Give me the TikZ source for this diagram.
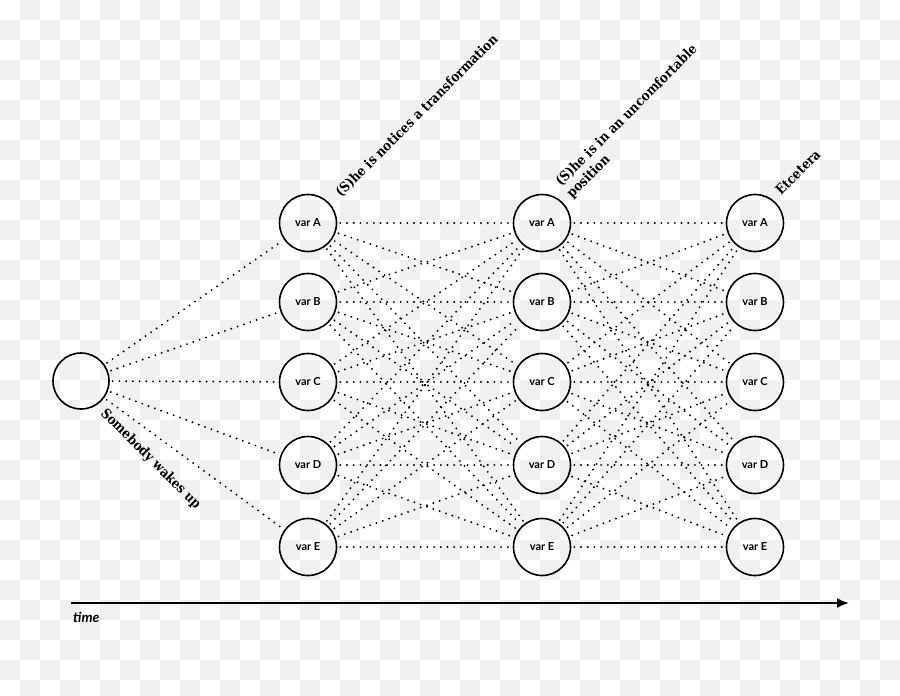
\documentclass[tikz,border=0pt]{standalone}
\usepackage{fontspec}
\setmainfont{DejaVu Serif}
\newfontfamily\latofont{Lato}
\newfontfamily\lblfont[FakeStretch=0.89]{DejaVu Serif}
\usetikzlibrary{arrows.meta}
\definecolor{bggray}{RGB}{240,240,240}
\begin{document}
\begin{tikzpicture}[x=1pt,y=-1pt,
  varnode/.style={circle,draw,line width=1.6pt,minimum size=57pt,inner sep=0pt,
    font=\latofont\bfseries\fontsize{11}{13}\selectfont},
  startnode/.style={circle,draw,line width=1.6pt,minimum size=56pt,inner sep=0pt},
  link/.style={line width=2.1pt,dash pattern=on 0pt off 6.7pt,line cap=round,shorten <=3pt,shorten >=3pt},
  lbl/.style={inner sep=0pt,font=\lblfont\bfseries\fontsize{13.5}{17}\selectfont}]
% background checkerboard
\fill[white] (0,0) rectangle (900,696);
\begin{scope}
\clip (0,0) rectangle (900,696);
\foreach \i in {0,...,44} {
  \foreach \j in {0,...,34} {
    \pgfmathtruncatemacro{\cellpar}{mod(\i+\j,2)}
    \ifnum\cellpar=1 \fill[bggray] (20*\i,20*\j) rectangle ++(20,20); \fi
  }
}
\end{scope}
\useasboundingbox (0,0) rectangle (900,696);

\node[startnode] (s) at (81,381) {};
\foreach \r/\y in {A/223,B/302,C/382,D/465,E/547} {
  \node[varnode] (c1\r) at (308,\y) {var \r};
  \node[varnode] (c2\r) at (542,\y) {var \r};
  \node[varnode] (c3\r) at (755,\y) {var \r};
}
\foreach \r in {A,B,C,D,E} {
  \draw[link] (s) -- (c1\r);
  \foreach \q in {A,B,C,D,E} {
    \draw[link] (c1\r) -- (c2\q);
    \draw[link] (c2\r) -- (c3\q);
  }
}

\node[lbl,rotate=-45,anchor=base west] (l0) at (100,414) {Somebody wakes up};
\node[lbl,rotate=45,anchor=base west] (l1) at (341,198) {(S)he is notices a transformation};
\node[lbl,rotate=45,anchor=base west] (l2a) at (561,187) {(S)he is in an uncomfortable};
\node[lbl,rotate=45,anchor=base west] (l2b) at (572,199) {position};
\node[lbl,rotate=45,anchor=base west] (l3) at (781,196) {Etcetera};

\coordinate (t0) at (71,603);
\coordinate (t1) at (849,603);
\draw[line width=2pt,-{Latex[length=12pt,width=10pt]}] (t0) -- (t1);
\node[anchor=base west,inner sep=0pt,font=\latofont\bfseries\itshape\fontsize{14}{16}\selectfont] (tl) at (73,622) {time};
\end{tikzpicture}
\end{document}
